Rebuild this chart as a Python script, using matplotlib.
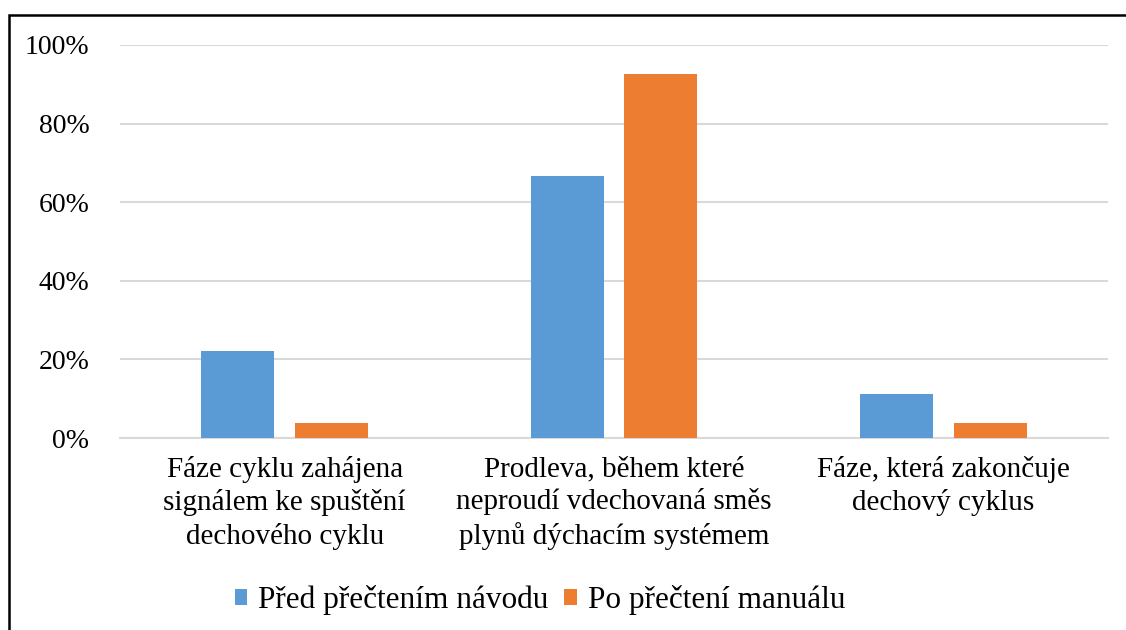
import numpy as np
import matplotlib.pyplot as plt
from matplotlib.patches import Rectangle
from matplotlib.ticker import PercentFormatter

plt.rcParams['font.family'] = ['Liberation Serif', 'DejaVu Serif']

categories = ['Fáze cyklu zahájena\nsignálem ke spuštění\ndechového cyklu',
              'Prodleva, během které\nneproudí vdechovaná směs\nplynů dýchacím systémem',
              'Fáze, která zakončuje\ndechový cyklus']
series_names = ['Před přečtením návodu', 'Po přečtení manuálu']
pred = [22.2, 66.7, 11.1]
po = [3.7, 92.6, 3.7]
colors = ['#5B9BD5', '#ED7D31']

fig = plt.figure(figsize=(11.26, 6.3), dpi=100)
ax = fig.add_axes([120 / 1126, 1 - 438 / 630, 988 / 1126, 393 / 630])

x = np.arange(len(categories))
w = 0.222
ax.bar(x - 0.142, pred, w, color=colors[0], label=series_names[0], zorder=3)
ax.bar(x + 0.142, po, w, color=colors[1], label=series_names[1], zorder=3)

ax.set_xlim(-0.5, 2.5)
ax.set_ylim(0, 100)
ax.set_yticks(np.arange(0, 101, 20))
ax.yaxis.set_major_formatter(PercentFormatter(decimals=0))
ax.grid(axis='y', color='#D9D9D9', linewidth=1.5, zorder=0)
for s in ['top', 'right', 'left']:
    ax.spines[s].set_visible(False)
ax.spines['bottom'].set_color('#D9D9D9')
ax.spines['bottom'].set_linewidth(1.5)
ax.tick_params(axis='y', length=0, pad=22, labelsize=20)
ax.tick_params(axis='x', length=0, pad=13, labelsize=21)
ax.set_xticks(x)
ax.set_xticklabels(categories, linespacing=1.3)

ax.legend(loc='center', bbox_to_anchor=(540 / 1126, 1 - 600 / 630),
          bbox_transform=fig.transFigure, ncol=2, frameon=False,
          fontsize=22.5, handlelength=0.4, handleheight=0.4,
          handletextpad=0.35, columnspacing=0.5)

# frame around the chart (cut off at right and bottom)
fig.patches.append(Rectangle((9 / 1126, -0.1), 1.2, 1 - 15 / 630 + 0.1,
                             transform=fig.transFigure, fill=False,
                             edgecolor='black', linewidth=1.8))

fig.savefig('out.png', dpi=100)
